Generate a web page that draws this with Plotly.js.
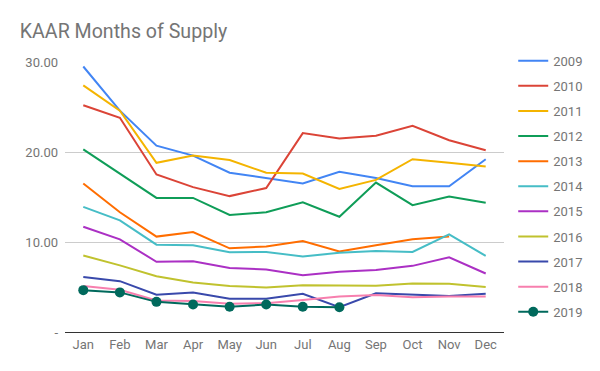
<!DOCTYPE html>
<html><head><meta charset="utf-8">
<script src="https://cdn.plot.ly/plotly-3.0.1.min.js"></script>
<style>html,body{margin:0;padding:0;background:#fff}#chart{width:600px;height:371px}</style>
</head><body><div id="chart"></div>
<script>
const months = ["Jan","Feb","Mar","Apr","May","Jun","Jul","Aug","Sep","Oct","Nov","Dec"];
const years = ["2009","2010","2011","2012","2013","2014","2015","2016","2017","2018","2019"];
const colors = ["#4285F4","#DB4437","#F4B400","#0F9D58","#FF6D00","#46BDC6","#AB30C4","#C0C22E","#3949AB","#F77FAE","#00695C"];
const v2009 = [29.5,24.6,20.7,19.6,17.7,17.1,16.5,17.8,17.1,16.2,16.2,19.2];
const v2010 = [25.2,23.8,17.5,16.1,15.1,16.0,22.1,21.5,21.8,22.9,21.3,20.2];
const v2011 = [27.4,24.6,18.8,19.6,19.1,17.7,17.6,15.9,16.9,19.2,18.8,18.4];
const v2012 = [20.3,17.6,14.9,14.9,13.0,13.3,14.4,12.8,16.6,14.1,15.05,14.35];
const v2013 = [16.5,13.3,10.6,11.1,9.3,9.5,10.1,8.95,9.65,10.3,10.6,null];
const v2014 = [13.9,12.4,9.7,9.65,8.85,8.9,8.4,8.8,9.0,8.9,10.85,8.45];
const v2015 = [11.7,10.3,7.8,7.85,7.1,6.95,6.3,6.7,6.9,7.35,8.3,6.5];
const v2016 = [8.5,7.4,6.2,5.5,5.1,4.95,5.2,5.15,5.15,5.4,5.35,5.0];
const v2017 = [6.1,5.65,4.15,4.4,3.7,3.7,4.25,2.75,4.3,4.15,4.0,4.25];
const v2018 = [5.1,4.7,3.5,3.45,3.15,3.2,3.55,3.95,4.1,3.85,3.95,3.95];
const v2019 = [4.65,4.4,3.35,3.05,2.8,3.05,2.8,2.75];
const series = [v2009,v2010,v2011,v2012,v2013,v2014,v2015,v2016,v2017,v2018,v2019];
const yTickVals = [0,10,20,30];
const yTickText = ["-","10.00","20.00","30.00"];

const traces = series.map((vals,i)=>{
  const is2019 = years[i]==="2019";
  return {
    type:"scatter",
    mode: is2019 ? "lines+markers" : "lines",
    x: months.slice(0, vals.length),
    y: vals,
    name: years[i],
    legendgroup: years[i],
    line:{color:colors[i], width:2},
    marker:{color:colors[i], size:10},
    connectgaps:false
  };
});

const layout = {
  width:600, height:371,
  margin:{l:65,r:87,t:62,b:39},
  paper_bgcolor:"#fff", plot_bgcolor:"#fff",
  font:{family:"Roboto, Arial, sans-serif", color:"#757575", size:12},
  title:{text:"KAAR Months of Supply", x:0.033, xanchor:"left", y:0.915, yanchor:"middle",
         font:{size:19.6, color:"#757575", family:"Roboto, Arial, sans-serif"}},
  xaxis:{type:"category", categoryorder:"array", categoryarray:months, range:[-0.5,11.5],
         showgrid:false, zeroline:false, showline:true, linecolor:"#333", linewidth:1,
         ticks:"", tickfont:{size:13,color:"#757575"}},
  yaxis:{range:[0,30], tickvals:yTickVals, ticktext:yTickText, showgrid:true, gridcolor:"#cccccc",
         zeroline:false, showline:false, ticks:"", tickfont:{size:13,color:"#757575"}, ticklabelstandoff:6},
  legend:{x:1.021, xanchor:"left", y:1.06, yanchor:"top", font:{size:13,color:"#757575"},
          tracegroupgap:5.2, itemwidth:30, maxheight:371},
  showlegend:true
};
Plotly.newPlot("chart", traces, layout, {displayModeBar:false, staticPlot:true});
</script></body></html>
